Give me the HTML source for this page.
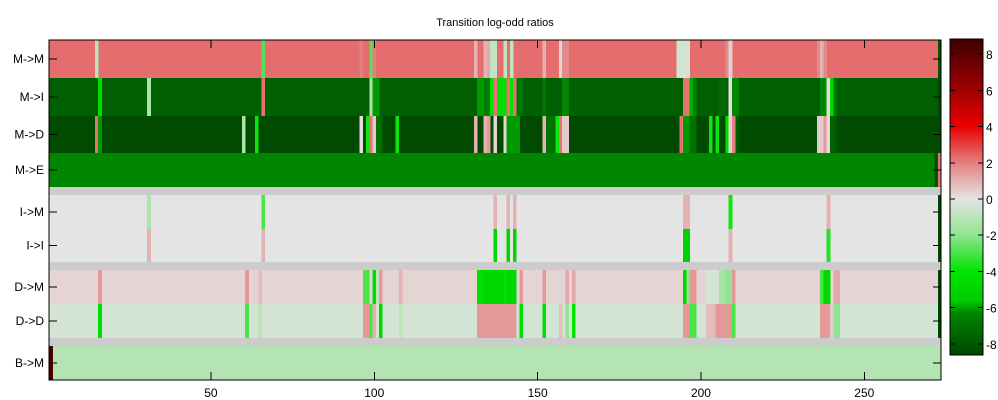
<!DOCTYPE html>
<html><head><meta charset="utf-8"><style>
html,body{margin:0;padding:0;background:#fff;}
svg{display:block;font-family:"Liberation Sans",sans-serif;}
</style></head><body>
<svg id="chart" width="998" height="400" shape-rendering="crispEdges">
<text x="495" y="26" font-size="11" text-anchor="middle">Transition log-odd ratios</text>
<g id="cells"></g>
<g id="axes"></g>
<g id="cbar"></g>
</svg>
<script>
const rowLabels = ["M->M","M->I","M->D","M->E",null,"I->M","I->I",null,"D->M","D->D",null,"B->M"];
const rowBase = [2.3,-7.7,-8.4,-6.3,null,0,0,null,0.32,-0.38,null,-1.15];
const rowEdges = [40,78,116,153,187,195,229,262,270,304,338,346,380];
const nCols = 273;
const xTicks = [50,100,150,200,250];
const cbTicks = [8,6,4,2,0,-2,-4,-6,-8];
// exceptions: [startCol, endCol, value]
const exMM = [[15,15,-1],[66,66,-2.8],[96,96,2],[99,99,-2.8],[100,100,2],[131,131,1],[134,134,1],[135,135,1.2],[136,137,-0.8],[140,140,-0.8],[142,142,-0.8],[152,152,1],[157,157,0.3],[158,159,1.8],[193,196,-0.4],[208,208,1.8],[209,209,0.4],[236,236,1.8],[237,237,1],[238,238,1.8],[273,273,-8]];
const exMI = [[16,16,-4.3],[31,31,-1.3],[66,66,2.2],[99,99,-1.3],[100,101,-6.1],[132,133,-6.1],[134,134,-6.5],[135,135,-6.5],[136,136,-4.3],[137,137,2.2],[138,140,-4.5],[141,141,2.2],[142,142,-4.5],[143,143,2.2],[144,145,-6.8],[152,152,-6.8],[158,159,-6.3],[195,196,2.2],[197,197,-5.9],[198,198,-6.5],[206,207,-7.3],[209,209,0],[210,211,-6.3],[237,238,-6.3],[239,239,0.2],[240,240,-4.8],[241,241,-6.8],[273,273,-8.5]];
const exMD = [[15,15,2.2],[16,16,-6.1],[60,60,-1.3],[64,64,-3.8],[96,96,0.1],[98,98,-3.8],[99,99,2.2],[100,100,0.5],[101,101,-7],[102,102,-7.3],[107,107,-3.8],[131,131,1],[134,134,1],[135,135,1.5],[137,137,0.3],[140,140,0.3],[141,144,-6.1],[152,152,1],[153,155,-7],[156,156,-3.8],[157,157,2.2],[158,159,0.5],[194,194,2.2],[195,196,-6.1],[197,198,-7],[203,203,-3.8],[205,205,-3.8],[208,208,-4.3],[209,209,0.3],[210,210,2],[211,211,-7.8],[236,237,0.5],[238,238,1.5],[239,239,0.2],[240,240,-7.5],[241,241,-7.8],[273,273,-8.5]];
const exME = [[272,272,-8],[273,273,2.2]];
const exIM = [[31,31,-1.3],[66,66,-3],[137,137,1],[141,141,1],[143,143,1],[195,196,1],[209,209,-3.8],[239,239,1],[273,273,-8.5]];
const exII = [[31,31,1],[66,66,1],[137,137,-5],[141,141,-5],[143,143,-5],[195,196,-5.3],[209,209,1],[239,239,-3.5],[273,273,-8.5]];
const exDM = [[16,16,1.5],[61,61,1.5],[65,65,0.8],[97,98,-3],[100,100,-4.5],[101,101,-1],[102,102,1.5],[108,108,1],[132,133,-4.2],[134,139,-5],[140,140,-4],[141,143,-5],[145,145,1.5],[152,152,1.5],[157,157,0.3],[159,159,1.2],[161,161,1.2],[195,195,-5],[196,196,-2],[197,198,1.5],[202,205,-0.4],[206,207,-1.5],[208,209,-2],[210,210,1.5],[237,237,-3],[238,239,-4.8],[241,242,1.2],[273,273,-8.5]];
const exDD = [[16,16,-4.5],[61,61,-3],[65,65,-1],[97,98,1.5],[99,99,-3],[100,100,1],[102,102,-5],[108,108,-1],[132,143,1.5],[145,145,-4.5],[152,152,-4.5],[157,157,0.8],[159,159,-2],[161,161,-4],[195,196,1.5],[197,198,-3],[202,204,0.8],[205,209,1.5],[210,210,-3],[237,239,1.5],[240,240,0.5],[241,242,-2],[273,273,-8.5]];
const exBM = [[1,1,8.5]];
const rowEx = [exMM,exMI,exMD,exME,null,exIM,exII,null,exDM,exDD,null,exBM];

const NS="http://www.w3.org/2000/svg";
const X0=49.2, PX=3.267;
function xEdge(c){return X0+(c-1)*PX;}
function xPos(v){return X0+(v-0.5)*PX;}
const CB_TOP=39, CB_BOT=355, CB_MAX=8.84, CB_MIN=-8.62;
function cbY(v){return CB_TOP+(CB_MAX-v)/(CB_MAX-CB_MIN)*(CB_BOT-CB_TOP);}
const stops=[[-8.8,[0,64,0]],[-6.3,[0,134,0]],[-5.6,[0,205,0]],[-4,[0,228,0]],[-2,[144,228,144]],[0,[228,228,228]],[2,[228,128,128]],[4,[232,0,0]],[6,[160,0,0]],[8.8,[64,0,0]]];
function color(v){
  if(v<=stops[0][0])return "rgb("+stops[0][1].join(",")+")";
  for(let i=1;i<stops.length;i++){
    if(v<=stops[i][0]){const a=stops[i-1],b=stops[i];const t=(v-a[0])/(b[0]-a[0]);
      return "rgb("+a[1].map((c,k)=>Math.round(c+(b[1][k]-c)*t)).join(",")+")";}
  }
  return "rgb("+stops[stops.length-1][1].join(",")+")";
}
function mk(tag,attrs,parent){const e=document.createElementNS(NS,tag);for(const k in attrs)e.setAttribute(k,attrs[k]);parent.appendChild(e);return e;}
const cells=document.getElementById('cells');
const axes=document.getElementById('axes');
const cbar=document.getElementById('cbar');
const right=xEdge(nCols+1);
for(let r=0;r<rowLabels.length;r++){
  const y0=rowEdges[r],h=rowEdges[r+1]-rowEdges[r];
  const base=rowBase[r];
  const br=mk('rect',{x:X0,y:y0,width:right-X0,height:h,fill:base===null?'#cccccc':color(base)},cells);
  
  
  if(rowEx[r]){
    for(const e of rowEx[r]){
      const c=mk('rect',{x:xEdge(e[0]),y:y0,width:(e[1]-e[0]+1)*PX+0.3,height:h,fill:color(e[2])},cells);
      
      
    }
  }
  if(rowLabels[r]){
    const cy=y0+h/2;
    const t=mk('text',{x:44,y:cy+4,'font-size':12,'text-anchor':'end'},axes);t.textContent=rowLabels[r];
    
    
    mk('line',{x1:X0,x2:X0+8,y1:cy,y2:cy,stroke:'#000'},axes);
    mk('line',{x1:right-8,x2:right,y1:cy,y2:cy,stroke:'#000'},axes);
  }
}
const frame=mk('rect',{x:X0,y:40,width:right-X0,height:340,fill:'none',stroke:'#000'},axes);


for(const v of xTicks){
  const x=xPos(v);
  mk('line',{x1:x,x2:x,y1:380,y2:372,stroke:'#000'},axes);
  mk('line',{x1:x,x2:x,y1:40,y2:48,stroke:'#000'},axes);
  const t=mk('text',{x:x,y:397,'font-size':12,'text-anchor':'middle'},axes);t.textContent=v;
  
  
}
for(let y=CB_TOP;y<CB_BOT;y++){
  const v=CB_MAX-(y-CB_TOP+0.5)/(CB_BOT-CB_TOP)*(CB_MAX-CB_MIN);
  mk('rect',{x:950,y:y,width:33,height:1.2,fill:color(v)},cbar);
}
const cf=mk('rect',{x:950,y:CB_TOP,width:33,height:CB_BOT-CB_TOP,fill:'none',stroke:'#000'},cbar);


for(const v of cbTicks){
  const y=cbY(v);
  mk('line',{x1:983,x2:978,y1:y,y2:y,stroke:'#000'},cbar);
  mk('line',{x1:950,x2:955,y1:y,y2:y,stroke:'#000'},cbar);
  const t=mk('text',{x:986,y:y+5,'font-size':12},cbar);t.textContent=v;
  
  
}
</script>
</body></html>
